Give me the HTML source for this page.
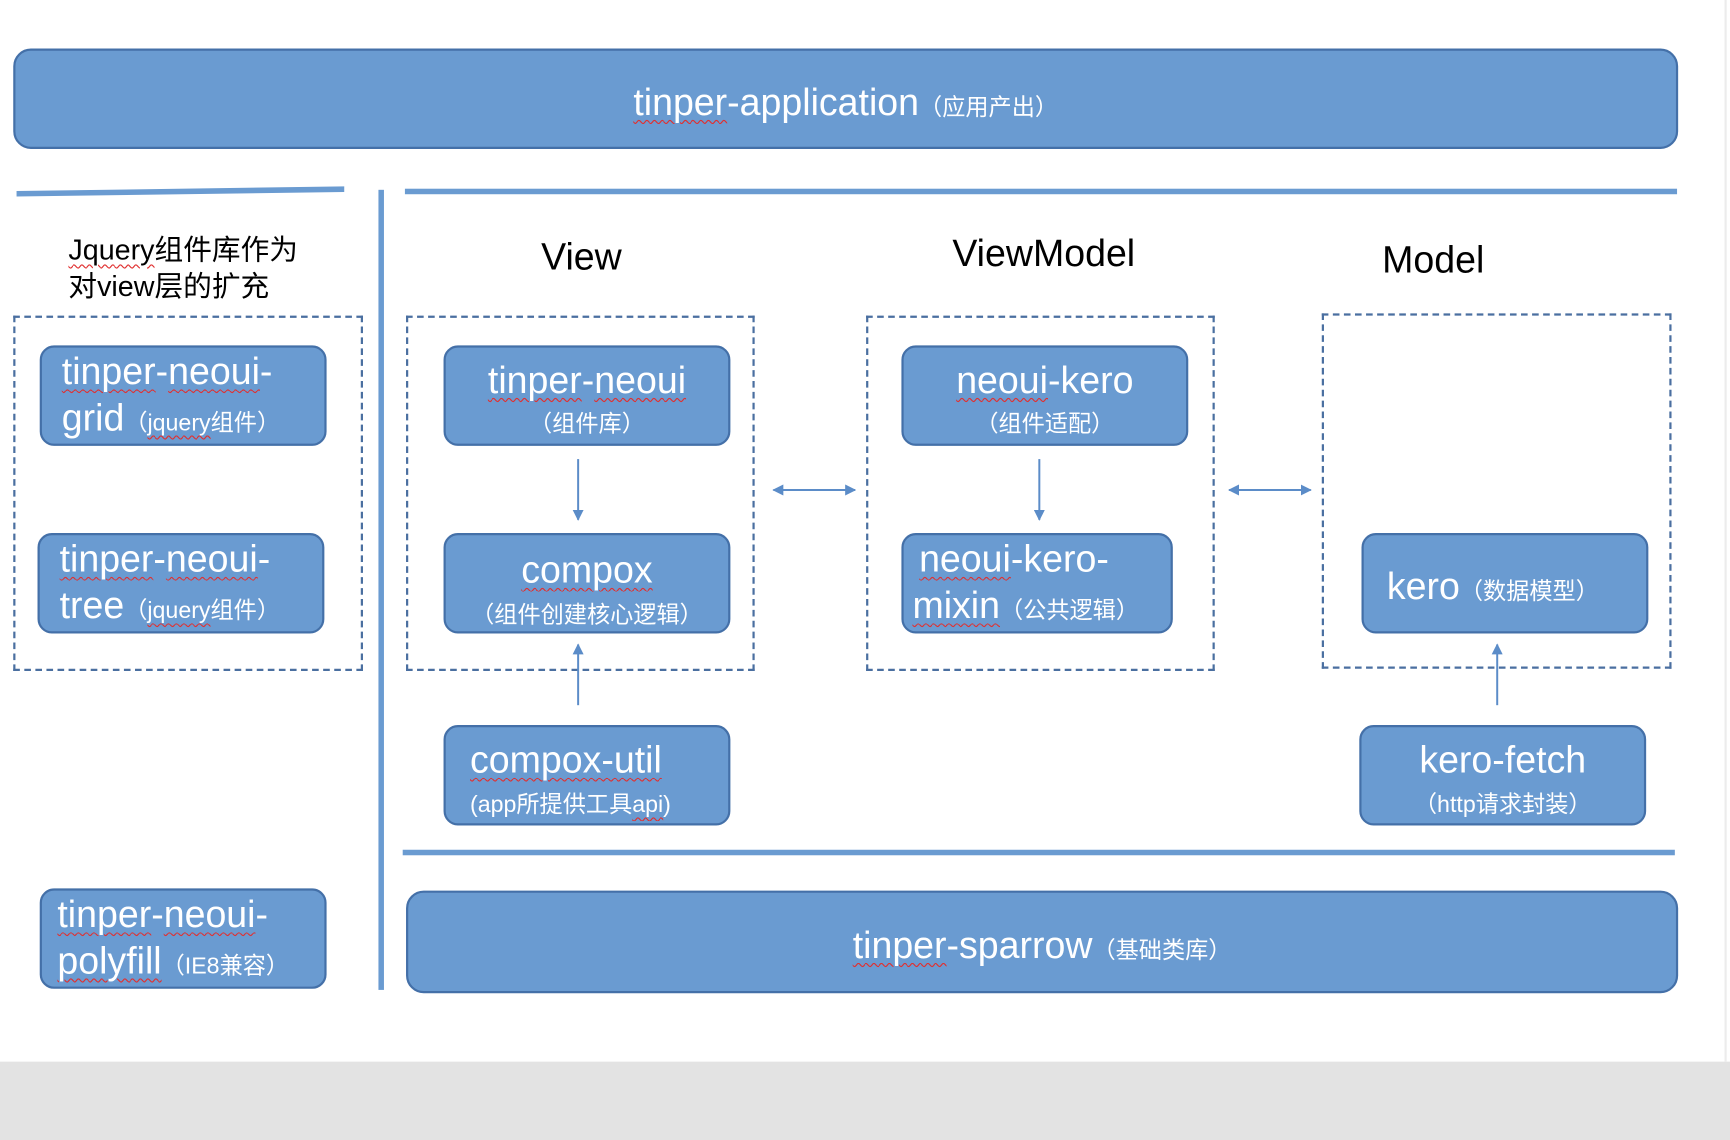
<!DOCTYPE html>
<html><head><meta charset="utf-8"><style>
html,body{margin:0;padding:0;background:#fff;width:1730px;height:1140px;overflow:hidden}
#s{position:absolute;left:0;top:0;width:1568px;height:1033px;transform-origin:0 0;transform:scale(1.10332,1.10358);font-family:"Liberation Sans","Noto Sans CJK SC",sans-serif}
.a{position:absolute}
.box{position:absolute;background:#6a9bd1;border:2px solid #4470a8;border-radius:13px;box-sizing:border-box;color:#fff}
.dash{position:absolute;border:2px dashed #4a6fa0;box-sizing:border-box}
.bar{position:absolute;background:#6a9bd1}
.w{text-decoration:underline wavy #e03030;text-decoration-thickness:1px;text-underline-offset:4px}
.big{font-size:34px}
.sm{font-size:21px}
.c{text-align:center;width:100%;left:0}
.h{position:absolute;font-size:34px;color:#000;text-align:center;width:300px}
.two div{line-height:36px;height:40px;white-space:nowrap}
</style></head><body><div id="s">
<div class="a" style="left:0;top:962px;width:1568px;height:71px;background:#e3e3e3"></div>
<div class="a" style="left:1563px;top:0;width:2px;height:962px;background:#ececec"></div>

<div class="box" style="left:12px;top:44px;width:1509px;height:91px;border-radius:16px">
 <div class="a c" style="top:27px;line-height:40px"><span class="big"><span class="w">tinper</span>-application</span><span class="sm">（应用产出）</span></div>
</div>

<div class="bar" style="left:15px;top:171px;width:297px;height:5px;transform:skewY(-0.8deg)"></div>
<div class="bar" style="left:367px;top:171px;width:1153px;height:5px"></div>
<div class="bar" style="left:343px;top:172px;width:5px;height:725px"></div>
<div class="bar" style="left:365px;top:770px;width:1153px;height:5px"></div>

<div class="a" style="left:62px;top:210px;font-size:26px;line-height:33px;color:#000"><span class="w">Jquery</span>组件库作为<br>对view层的扩充</div>
<div class="h" style="left:377px;top:214px">View</div>
<div class="h" style="left:796px;top:211px">ViewModel</div>
<div class="h" style="left:1149px;top:217px">Model</div>

<div class="dash" style="left:12px;top:286px;width:317px;height:322px"></div>
<div class="dash" style="left:368px;top:286px;width:316px;height:322px"></div>
<div class="dash" style="left:785px;top:286px;width:316px;height:322px"></div>
<div class="dash" style="left:1198px;top:284px;width:317px;height:322px"></div>

<div class="box two" style="left:36px;top:313px;width:260px;height:91px"><div class="a" style="left:18px;top:4px"><span class="big"><span class="w">tinper</span>-<span class="w">neoui</span>-</span></div><div class="a" style="left:18px;top:46px"><span class="big">grid</span><span class="sm">（<span class="w">jquery</span>组件）</span></div></div>
<div class="box two" style="left:34px;top:483px;width:260px;height:91px"><div class="a" style="left:18px;top:4px"><span class="big"><span class="w">tinper</span>-<span class="w">neoui</span>-</span></div><div class="a" style="left:18px;top:46px"><span class="big">tree</span><span class="sm">（<span class="w">jquery</span>组件）</span></div></div>
<div class="box two" style="left:36px;top:805px;width:260px;height:91px"><div class="a" style="left:14px;top:4px"><span class="big"><span class="w">tinper</span>-<span class="w">neoui</span>-</span></div><div class="a" style="left:14px;top:46px"><span class="big w">polyfill</span><span class="sm">（IE8兼容）</span></div></div>

<div class="box" style="left:402px;top:313px;width:260px;height:91px"><div class="a c" style="top:14px;line-height:33px"><span class="big"><span class="w">tinper</span>-<span class="w">neoui</span></span><br><span class="sm">（组件库）</span></div></div>
<div class="box" style="left:402px;top:483px;width:260px;height:91px"><div class="a c" style="top:15px;line-height:34px"><span class="big w">compox</span><br><span class="sm">（组件创建核心逻辑）</span></div></div>
<div class="box" style="left:402px;top:657px;width:260px;height:91px"><div class="a" style="left:22px;top:13px;line-height:34px"><span class="big w">compox-util</span><br><span class="sm">(app所提供工具<span class="w">api</span>)</span></div></div>

<div class="box" style="left:817px;top:313px;width:260px;height:91px"><div class="a c" style="top:14px;line-height:33px"><span class="big"><span class="w">neoui</span>-kero</span><br><span class="sm">（组件适配）</span></div></div>
<div class="box two" style="left:817px;top:483px;width:246px;height:91px"><div class="a" style="left:14px;top:4px"><span class="big"><span class="w">neoui</span>-kero-</span></div><div class="a" style="left:8px;top:46px"><span class="big w">mixin</span><span class="sm">（公共逻辑）</span></div></div>

<div class="box" style="left:1234px;top:483px;width:260px;height:91px"><div class="a" style="left:21px;top:27px;line-height:40px"><span class="big">kero</span><span class="sm">（数据模型）</span></div></div>
<div class="box" style="left:1232px;top:657px;width:260px;height:91px"><div class="a c" style="top:13px;line-height:34px"><span class="big">kero-fetch</span><br><span class="sm">（http请求封装）</span></div></div>

<div class="box" style="left:368px;top:807px;width:1153px;height:93px;border-radius:16px"><div class="a c" style="top:28px;line-height:40px"><span class="big"><span class="w">tinper</span>-sparrow</span><span class="sm">（基础类库）</span></div></div>

<svg class="a" style="left:0;top:0" width="1568" height="1033">
<defs><marker id="m" markerWidth="10" markerHeight="10" refX="9" refY="5" orient="auto-start-reverse" markerUnits="userSpaceOnUse"><path d="M0,0 L10,5 L0,10 z" fill="#5b8cc8"/></marker></defs>
<g stroke="#5b8cc8" stroke-width="1.8" fill="none">
<line x1="524" y1="416" x2="524" y2="471" marker-end="url(#m)"/>
<line x1="942" y1="416" x2="942" y2="471" marker-end="url(#m)"/>
<line x1="524" y1="639" x2="524" y2="584" marker-end="url(#m)"/>
<line x1="1357" y1="639" x2="1357" y2="584" marker-end="url(#m)"/>
<line x1="701" y1="444" x2="775" y2="444" marker-start="url(#m)" marker-end="url(#m)"/>
<line x1="1114" y1="444" x2="1188" y2="444" marker-start="url(#m)" marker-end="url(#m)"/>
</g></svg>
</div></body></html>
